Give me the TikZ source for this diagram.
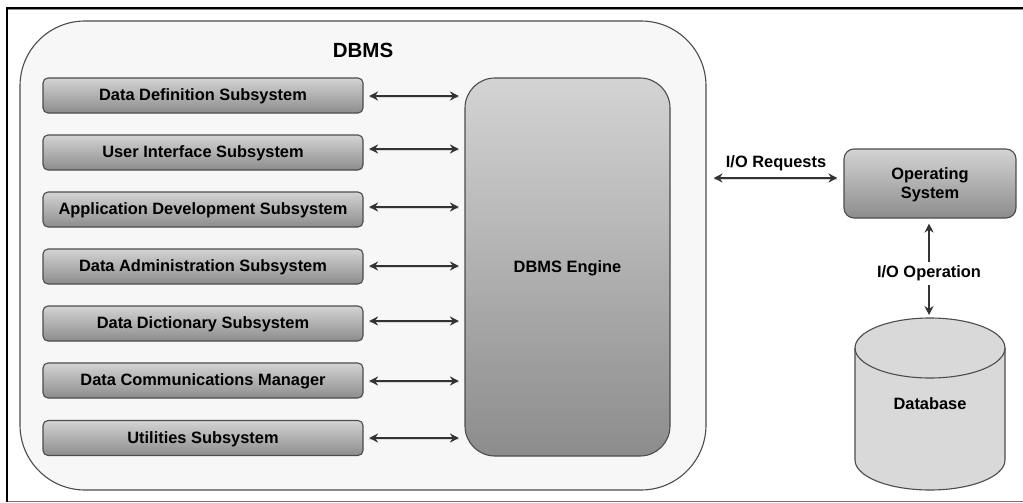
\documentclass[tikz,border=0pt]{standalone}
\usepackage{fontspec}
\setmainfont{Liberation Sans}
\usetikzlibrary{arrows.meta}
\newcommand{\lowertext}[1]{\raisebox{-1.2pt}[\height][\depth]{#1}}
\tikzset{
  x=1pt,y=-1pt,
  grad/.style={draw=black!70,line width=1.1pt,top color=black!17,bottom color=black!45,align=center,font=\bfseries\fontsize{16.4}{19}\selectfont,text=black},
  subbox/.style={grad,rounded corners=5pt,minimum width=320pt,minimum height=35pt,inner sep=0pt},
  biarrow/.style={{Stealth[length=9pt,width=9pt]}-{Stealth[length=9pt,width=9pt]},draw=black!80,line width=1.4pt},
  arrowshade/.style={preaction={draw=black!15,-,line width=1.6pt,transform canvas={yshift=-1.6pt}}},
  lbl/.style={font=\bfseries\fontsize{16.4}{19}\selectfont,text=black,inner sep=1pt},
}
\begin{document}
\begin{tikzpicture}
\useasboundingbox (0,0) rectangle (1023,503);
\fill[white] (0,0) rectangle (1023,503);
\draw[black!55,line width=1pt] (7,501.5) -- (1023,501.5);
\draw[black!45,line width=1pt] (7,9.5) -- (1023,9.5);
\draw[black,line width=2.6pt] (7,502) -- (7,8) -- (1023,8);
\node[draw=black!70,line width=1.1pt,fill=black!3,rounded corners=65pt,minimum width=686pt,minimum height=469pt,inner sep=0pt] (dbms) at (363,255.5) {};
\node[lbl,font=\bfseries\fontsize{20.5}{24}\selectfont] (title) at (363,50) {DBMS};
\node[grad,rounded corners=30pt,minimum width=205pt,minimum height=378pt,inner sep=0pt] (engine) at (567.5,267) {\lowertext{DBMS Engine}};
\node[subbox] (a) at (203,95.5) {\lowertext{Data Definition Subsystem}};
\node[subbox] (b) at (203,152.5) {\lowertext{User Interface Subsystem}};
\node[subbox] (c) at (203,209.5) {\lowertext{Application Development Subsystem}};
\node[subbox] (d) at (203,266.5) {\lowertext{Data Administration Subsystem}};
\node[subbox] (e) at (203,323.5) {\lowertext{Data Dictionary Subsystem}};
\node[subbox] (f) at (203,380.5) {\lowertext{Data Communications Manager}};
\node[subbox] (g) at (203,438) {\lowertext{Utilities Subsystem}};
\foreach \n/\o in {a/-0.5,b/3.5,c/2.5,d/0.5,e/2.5,f/-0.5,g/0}{
  \draw[biarrow,arrowshade,shorten <=5.5pt,shorten >=5.5pt] ([yshift=\o pt]\n.east) -- ([yshift=\o pt]\n.east -| engine.west);
}
\node[grad,rounded corners=10pt,minimum width=172pt,minimum height=69pt,inner sep=0pt] (os) at (930,183.5) {\lowertext{Operating}\\\lowertext{System}};
\node[lbl] (req) at (776,163.5) {I/O Requests};
\draw[biarrow,arrowshade,shorten <=7pt,shorten >=6pt] ([yshift=5.5pt]dbms.east |- os.west) -- ([yshift=5.5pt]os.west);
% cylinder
\path[draw=black!70,line width=1.1pt,fill=black!15] (855,348) -- (855,460) arc[start angle=180,end angle=360,x radius=75,y radius=-30] -- (1005,348) arc[start angle=0,end angle=180,x radius=75,y radius=-30] -- cycle;
\draw[black!70,line width=1.1pt] (855,348) arc[start angle=180,end angle=360,x radius=75,y radius=-30];
\node[lbl] (db) at (930,404) {Database};
\coordinate (dbtop) at (929,318);
\draw[biarrow,shorten <=5pt,shorten >=3pt] (os.south -| dbtop) -- (dbtop);
\node[lbl,fill=white,inner sep=0pt,minimum height=23pt] (op) at (929,273) {I/O Operation};
\end{tikzpicture}
\end{document}
